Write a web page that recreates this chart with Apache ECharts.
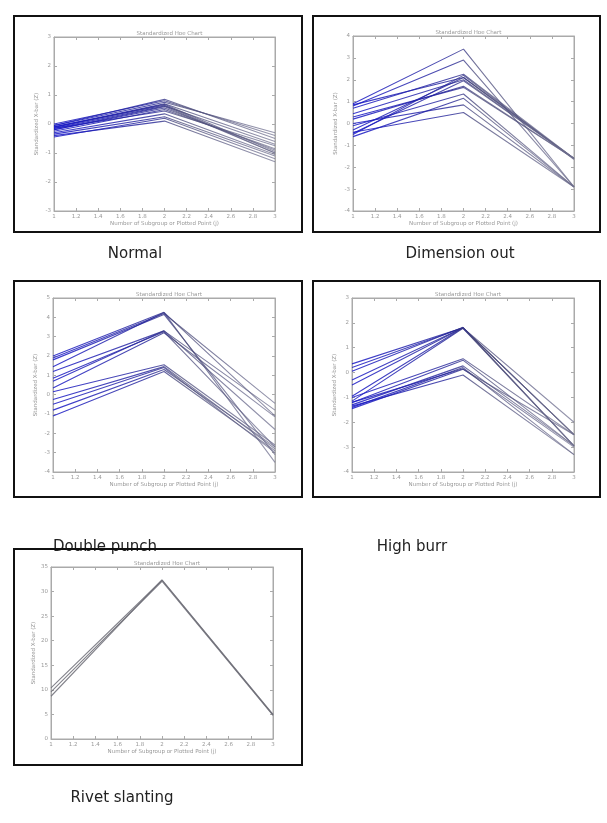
<!DOCTYPE html>
<html>
<head>
<meta charset="utf-8">
<script src="https://cdn.jsdelivr.net/npm/echarts@6/dist/echarts.min.js"></script>
<style>
html,body{margin:0;padding:0;background:#fff;}
#c{width:607px;height:823px;}
</style>
</head>
<body>
<div id="c"></div>
<script>
// ---- data (start at point 1, peak at point 2, end at point 3) ----
var xPoints = [1, 2, 3];
var panelNames = ['Normal', 'Dimension out', 'Double punch', 'High burr', 'Rivet slanting'];
var chartTitle = 'Standardized Hoe Chart';
var xAxisTitle = 'Number of Subgroup or Plotted Point (j)';
var yAxisTitle = 'Standardized X-bar (Z)';

var normalLines = [
  [-0.05, 0.75, -0.3], [-0.1, 0.7, -0.6], [-0.15, 0.62, -0.7], [-0.2, 0.55, -0.9],
  [-0.1, 0.65, -1.0], [-0.25, 0.5, -0.85], [-0.3, 0.35, -1.05], [-0.35, 0.25, -1.1],
  [-0.4, 0.1, -1.3], [-0.05, 0.85, -0.5], [-0.2, 0.6, -1.0], [-0.15, 0.45, -0.75],
  [0.0, 0.8, -0.4], [-0.45, 0.2, -1.2], [-0.12, 0.68, -0.95]
];
var dimensionLines = [
  [0.9, 3.4, -2.9], [0.8, 2.9, -2.9], [0.7, 2.25, -1.6], [0.85, 2.1, -1.6],
  [0.45, 2.0, -1.6], [0.3, 1.65, -1.6], [-0.3, 2.1, -1.6], [-0.45, 1.95, -1.6],
  [-0.1, 1.35, -2.9], [-0.6, 1.15, -2.9], [0.0, 0.85, -2.9], [-0.4, 0.5, -2.9],
  [0.2, 1.7, -1.6], [-0.5, 2.2, -1.65]
];
var doublePunchLines = [
  [2.0, 4.26, -1.1], [1.9, 4.2, -0.45], [1.8, 4.15, -3.1], [1.45, 4.25, -3.5],
  [1.2, 3.3, -0.8], [0.85, 3.25, -2.7], [0.7, 3.3, -1.8], [0.35, 3.2, -1.15],
  [0.15, 1.55, -2.6], [-0.25, 1.45, -2.8], [-0.5, 1.4, -3.0], [-0.8, 1.3, -2.7],
  [-1.1, 1.2, -2.9]
];
var highBurrLines = [
  [0.35, 1.8, -2.0], [0.2, 1.8, -2.5], [0.05, 1.82, -2.95], [-0.3, 1.8, -2.5],
  [-0.5, 1.8, -2.95], [-0.95, 1.8, -2.5], [-1.15, 1.78, -2.95],
  [-1.0, 0.56, -2.5], [-1.2, 0.5, -2.95],
  [-1.3, 0.27, -2.95], [-1.4, 0.2, -3.3], [-1.45, 0.13, -2.5], [-1.2, 0.15, -3.0], [-1.35, -0.1, -3.3]
];
var rivetLines = [
  [10.4, 32.3, 4.9], [9.6, 32.1, 4.8], [8.7, 32.4, 5.0]
];
var yRanges = [[-3, 3, 1], [-4, 4, 1], [-4, 5, 1], [-4, 3, 1], [0, 35, 5]];
var xTickStep = 0.2;

// ---- layout ----
var panels = [
  {box: [14, 16, 288, 216], grid: [54, 37, 221, 174], cap: [135, 254]},
  {box: [313, 16, 287, 216], grid: [353, 36, 221, 175], cap: [460, 254]},
  {box: [14, 281, 288, 216], grid: [53, 298, 222, 174], cap: [105, 547]},
  {box: [313, 281, 287, 216], grid: [352, 298, 222, 174], cap: [412, 547]},
  {box: [14, 549, 288, 216], grid: [51, 567, 222, 172], cap: [122, 798]}
];
var allLines = [normalLines, dimensionLines, doublePunchLines, highBurrLines, rivetLines];

var chart = echarts.init(document.getElementById('c'), null, {renderer: 'canvas'});

var grids = [], xAxes = [], yAxes = [], series = [], titles = [], graphics = [];
var axLine = {show: true, onZero: false, lineStyle: {color: '#aaa', width: 1}};
var tickSty = {show: true, inside: true, length: 3, lineStyle: {color: '#aaa'}};
var smallText = {fontSize: 5.5, color: '#999', fontFamily: 'DejaVu Sans'};

panels.forEach(function (p, i) {
  var g = p.grid;
  grids.push({left: g[0], top: g[1], width: g[2], height: g[3], show: true,
    borderColor: '#aaa', borderWidth: 1, backgroundColor: '#fff', containLabel: false});
  var xi = xAxes.length;
  xAxes.push({type: 'value', gridIndex: i, min: 1, max: 3, interval: xTickStep,
    position: 'bottom',
    name: xAxisTitle, nameLocation: 'middle', nameGap: 10, nameTextStyle: smallText,
    axisLine: axLine, axisTick: tickSty,
    axisLabel: {show: true, margin: 3, fontSize: 5.5, color: '#999', fontFamily: 'DejaVu Sans',
      formatter: function (v) { return String(Math.round(v * 10) / 10); }},
    splitLine: {show: false}});
  xAxes.push({type: 'value', gridIndex: i, min: 1, max: 3, interval: xTickStep,
    position: 'top', axisLine: axLine, axisTick: tickSty,
    axisLabel: {show: false}, splitLine: {show: false}});
  var r = yRanges[i];
  var yi = yAxes.length;
  yAxes.push({type: 'value', gridIndex: i, min: r[0], max: r[1], interval: r[2],
    position: 'left',
    name: yAxisTitle, nameLocation: 'middle', nameGap: 14, nameRotate: 90, nameTextStyle: smallText,
    axisLine: axLine, axisTick: tickSty,
    axisLabel: {show: true, margin: 3, fontSize: 5.5, color: '#999', fontFamily: 'DejaVu Sans'},
    splitLine: {show: false}});
  yAxes.push({type: 'value', gridIndex: i, min: r[0], max: r[1], interval: r[2],
    position: 'right', axisLine: axLine, axisTick: tickSty,
    axisLabel: {show: false}, splitLine: {show: false}});

  titles.push({text: chartTitle, left: g[0] + g[2] / 2, top: g[1] - 11, textAlign: 'center',
    textStyle: {fontSize: 5.5, fontWeight: 'normal', color: '#999', fontFamily: 'DejaVu Sans'}});

  allLines[i].forEach(function (vals, k) {
    var color;
    if (i === 4) {
      color = 'rgba(110,110,120,0.85)';
    } else {
      color = new echarts.graphic.LinearGradient(0, 0, 1, 0, [
        {offset: 0, color: 'rgba(25,25,200,0.85)'},
        {offset: 0.45, color: 'rgba(35,35,150,0.8)'},
        {offset: 0.55, color: 'rgba(70,70,120,0.75)'},
        {offset: 1, color: 'rgba(110,110,140,0.7)'}
      ]);
    }
    series.push({type: 'line', xAxisIndex: xi, yAxisIndex: yi,
      data: xPoints.map(function (x, j) { return [x, vals[j]]; }),
      symbol: 'none', silent: true, animation: false,
      lineStyle: {color: color, width: 1.1}});
  });

  graphics.push({type: 'rect', shape: {x: p.box[0], y: p.box[1], width: p.box[2], height: p.box[3]},
    style: {fill: 'none', stroke: '#111', lineWidth: 2}, z: 100});
  graphics.push({type: 'text', x: p.cap[0], y: p.cap[1],
    style: {text: panelNames[i], fontSize: 15, fontFamily: 'DejaVu Sans', fill: '#222',
      textAlign: 'center', textVerticalAlign: 'middle'}, z: 100});
});

chart.setOption({
  backgroundColor: '#fff',
  animation: false,
  title: titles,
  grid: grids,
  xAxis: xAxes,
  yAxis: yAxes,
  series: series,
  graphic: graphics
});
</script>
</body>
</html>
